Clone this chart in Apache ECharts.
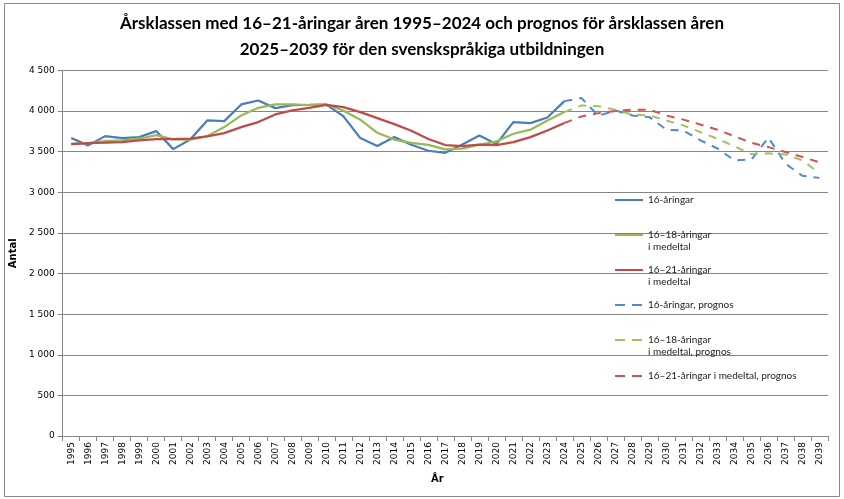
<!DOCTYPE html>
<html>
<head>
<meta charset="utf-8">
<script src="https://cdn.jsdelivr.net/npm/echarts@6/dist/echarts.min.js"></script>
<style>
html,body{margin:0;padding:0;background:#fff;}
#chart{width:844px;height:499px;}
</style>
</head>
<body>
<div id="chart"></div>
<script>
const years = ['1995','1996','1997','1998','1999','2000','2001','2002','2003','2004','2005','2006','2007','2008','2009','2010','2011','2012','2013','2014','2015','2016','2017','2018','2019','2020','2021','2022','2023','2024','2025','2026','2027','2028','2029','2030','2031','2032','2033','2034','2035','2036','2037','2038','2039'];

// 1995–2024
const age16 = [3668,3578,3692,3668,3680,3754,3532,3650,3885,3877,4082,4131,4037,4074,4076,4080,3938,3668,3570,3680,3586,3512,3487,3590,3701,3594,3865,3852,3922,4123];
const avg16_18 = [3598,3606,3631,3640,3660,3705,3652,3648,3692,3803,3947,4041,4082,4082,4074,4082,4008,3895,3733,3650,3608,3585,3528,3537,3586,3627,3721,3771,3885,3988];
const avg16_21 = [3594,3606,3611,3619,3640,3656,3654,3660,3689,3729,3803,3865,3959,4008,4041,4078,4049,3988,3914,3840,3758,3656,3582,3570,3588,3580,3619,3680,3762,3854];

// 2024–2039 (prognos)
const age16Prog = [4123,4162,3942,4008,3947,3926,3771,3762,3640,3540,3393,3404,3674,3353,3203,3178];
const avg16_18Prog = [3988,4070,4061,4017,3957,3947,3885,3824,3742,3660,3566,3470,3480,3466,3393,3234];
const avg16_21Prog = [3854,3934,3975,4000,4017,4017,3945,3895,3835,3771,3689,3611,3557,3496,3434,3370];

const names = ['16-åringar','16–18-åringar\ni medeltal','16–21-åringar\ni medeltal','16-åringar, prognos','16–18-åringar\ni medeltal, prognos','16–21-åringar i medeltal, prognos'];

const progStart = years.indexOf('2024');
function padProg(arr){ return new Array(progStart).fill(null).concat(arr); }

const colors = ['#4A7EBB','#98B954','#BE4B48','#5089CF','#A3C25E','#CF5350'];

function solid(name, data, color){
  return {name, type:'line', data, symbol:'none', connectNulls:false,
    lineStyle:{color, width:2.25, type:'solid'}, itemStyle:{color}, animation:false, z:3};
}
function dashed(name, data, color){
  return {name, type:'line', data: padProg(data), symbol:'none', connectNulls:false,
    lineStyle:{color, width:2, type:[8,7]}, itemStyle:{color}, animation:false, z:2};
}

// invisible corner markers keep the icon box 28x24
const corners = 'M0,0H0.01V0.01H0Z M27.99,23.99H28V24H27.99Z';
const icons = [
  'path://M0,11H28V13H0Z ' + corners,
  'path://M0,5H28V7H0Z ' + corners,
  'path://M0,5H28V7H0Z ' + corners,
  'path://M0,11H10V13H0Z M17,11H27V13H17Z ' + corners,
  'path://M0,5H10V7H0Z M17,5H27V7H17Z ' + corners,
  'path://M0,11H10V13H0Z M17,11H27V13H17Z ' + corners
];
const legendTops = [183, 224, 259, 288, 329, 359];
const legends = names.map((n,i)=>({
  data:[{name:n, icon:icons[i]}], orient:'vertical', left:610, top:legendTops[i],
  itemWidth:28, itemHeight:24, itemGap:3, symbolKeepAspect:false,
  itemStyle:{borderWidth:0},
  textStyle:{fontFamily:'Lato', fontSize:10, color:'#222', lineHeight:12},
  selectedMode:false
}));

const chart = echarts.init(document.getElementById('chart'), null, {renderer:'canvas'});
chart.setOption({
  backgroundColor:'#fff',
  animation:false,
  title:{
    text:'Årsklassen med 16–21-åringar åren 1995–2024 och prognos för årsklassen åren\n2025–2039 för den svenskspråkiga utbildningen',
    left:'center', top:6,
    textStyle:{fontFamily:'Lato', fontWeight:'bold', fontSize:17, color:'#000', lineHeight:26}
  },
  graphic:[{type:'rect', shape:{x:4.5,y:3.5,width:835,height:493}, style:{fill:'none', stroke:'#868686', lineWidth:1}, silent:true, z:-1}],
  legend: legends,
  grid:{left:54, right:16, top:70.5, bottom:63, containLabel:false},
  xAxis:{
    type:'category', data:years, boundaryGap:true,
    name:'År', nameLocation:'middle', nameGap:38,
    nameTextStyle:{fontFamily:'DejaVu Sans', fontWeight:'bold', fontSize:10, color:'#000', padding:[0,16,0,0]},
    axisLine:{lineStyle:{color:'#868686', width:1}},
    axisTick:{show:true, length:5, lineStyle:{color:'#868686'}},
    axisLabel:{rotate:90, interval:0, fontFamily:'DejaVu Sans', fontSize:9, color:'#000', margin:6},
    splitLine:{show:false}
  },
  yAxis:{
    type:'value', min:0, max:4500, interval:500,
    name:'Antal', nameLocation:'middle', nameGap:38, nameRotate:90,
    nameTextStyle:{fontFamily:'DejaVu Sans', fontWeight:'bold', fontSize:10, color:'#000'},
    axisLine:{show:true, lineStyle:{color:'#868686', width:1}},
    axisTick:{show:true, length:5, lineStyle:{color:'#868686'}},
    axisLabel:{fontFamily:'DejaVu Sans', fontSize:9, color:'#000', margin:8,
      formatter: v => String(v).replace(/\B(?=(\d{3})+(?!\d))/g,' ')},
    splitLine:{show:true, lineStyle:{color:'#868686', width:1}}
  },
  series:[
    solid(names[0], age16, colors[0]),
    solid(names[1], avg16_18, colors[1]),
    solid(names[2], avg16_21, colors[2]),
    dashed(names[3], age16Prog, colors[3]),
    dashed(names[4], avg16_18Prog, colors[4]),
    dashed(names[5], avg16_21Prog, colors[5])
  ]
});
</script>
</body>
</html>
